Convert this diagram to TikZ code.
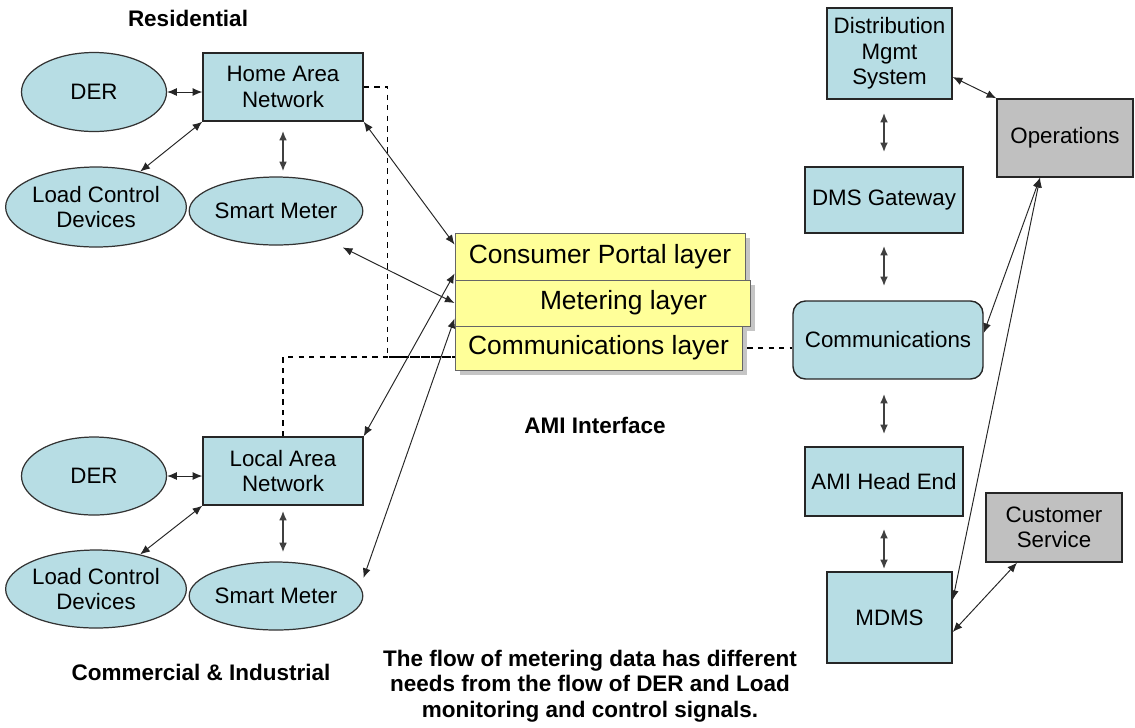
\documentclass[tikz,border=0pt]{standalone}
\usepackage{fontspec}
\setmainfont{Liberation Sans}
\usetikzlibrary{arrows.meta, shapes.geometric, shadows}
\definecolor{amiblue}{RGB}{183,221,228}
\definecolor{amigray}{RGB}{192,192,192}
\definecolor{amiyellow}{RGB}{255,255,153}

\begin{document}
\begin{tikzpicture}[
    txt/.style={font=\fontsize{12.7}{14.5}\selectfont, align=center, inner sep=0pt},
    boldlabel/.style={font=\bfseries\fontsize{12.8}{14.6}\selectfont, align=center, inner sep=0pt},
    sysbox/.style={txt, draw=black!85, line width=0.8pt, fill=amiblue},
    opsbox/.style={sysbox, fill=amigray},
    device/.style={txt, ellipse, draw=black!80, line width=0.7pt, fill=amiblue},
    layerbox/.style={draw=black!60, line width=0.5pt, fill=amiyellow, inner sep=0pt,
        font=\fontsize{15}{17}\selectfont,
        drop shadow={shadow xshift=0.09cm, shadow yshift=-0.09cm, fill=black!45}},
    link/.style={{Latex[length=5.5pt,width=4.5pt]}-{Latex[length=5.5pt,width=4.5pt]}, line width=0.55pt, black!85},
    vlink/.style={link, line width=1.2pt, black!75},
    dashline/.style={dashed, line width=0.7pt}
]
    \useasboundingbox (0,0) rectangle (22.7,-14.54);

    % residential
    \node[boldlabel] (res) at (3.76,-0.36) {Residential};
    \node[sysbox, minimum width=3.2cm, minimum height=1.36cm] (han) at (5.66,-1.74) {Home Area\\Network};
    \node[device, minimum width=2.9cm, minimum height=1.58cm] (der1) at (1.88,-1.84) {DER};
    \node[device, minimum width=3.44cm, minimum height=1.6cm] (lcd1) at (1.92,-4.14) {Load Control\\Devices};
    \node[device, minimum width=2.9cm, minimum height=1.36cm] (sm1) at (5.52,-4.22) {Smart Meter};

    % commercial & industrial
    \node[sysbox, minimum width=3.2cm, minimum height=1.36cm] (lan) at (5.66,-9.42) {Local Area\\Network};
    \node[device, minimum width=2.9cm, minimum height=1.56cm] (der2) at (1.88,-9.52) {DER};
    \node[device, minimum width=3.44cm, minimum height=1.56cm] (lcd2) at (1.92,-11.78) {Load Control\\Devices};
    \node[device, minimum width=2.9cm, minimum height=1.36cm] (sm2) at (5.52,-11.92) {Smart Meter};
    \node[boldlabel] (ci) at (4.02,-13.44) {Commercial \& Industrial};

    % AMI interface
    \node[layerbox, minimum width=5.8cm, minimum height=0.94cm] (cpl) at (12.0,-5.13) {Consumer Portal layer};
    \node[layerbox, minimum width=5.9cm, minimum height=0.92cm] (ml) at (12.05,-6.06) {\hspace*{0.84cm}Metering layer};
    \node[layerbox, minimum width=5.74cm, minimum height=0.88cm] (cl) at (11.97,-6.96) {Communications layer};
    \node[boldlabel] (ami) at (11.9,-8.5) {AMI Interface};
    \node[boldlabel] (note) at (11.8,-13.72) {The flow of metering data has different\\needs from the flow of DER and Load\\monitoring and control signals.};

    % utility side
    \node[sysbox, minimum width=2.5cm, minimum height=1.82cm] (dms) at (17.79,-1.07) {Distribution\\Mgmt\\System};
    \node[sysbox, minimum width=3.16cm, minimum height=1.32cm] (gw) at (17.68,-4.0) {DMS Gateway};
    \node[sysbox, rounded corners=0.25cm, minimum width=3.8cm, minimum height=1.56cm] (comm) at (17.76,-6.8) {Communications};
    \node[sysbox, minimum width=3.16cm, minimum height=1.38cm] (he) at (17.68,-9.63) {AMI Head End};
    \node[sysbox, minimum width=2.5cm, minimum height=1.82cm] (mdms) at (17.79,-12.35) {MDMS};
    \node[opsbox, minimum width=2.72cm, minimum height=1.56cm] (ops) at (21.3,-2.76) {Operations};
    \node[opsbox, minimum width=2.72cm, minimum height=1.38cm] (cs) at (21.08,-10.55) {Customer\\Service};

    % dashed communication paths
    \coordinate (bus) at ([yshift=-0.18cm]cl.west);
    \draw[dashline] (han.east) -- ++(0.48,0) |- (bus);
    \draw[dashline] (lan.north) |- (bus);
    \draw[dashline] ([xshift=0.1cm]cl.east) -- (cl.east -| comm.west);

    % residential links
    \draw[link] (der1.east) -- (der1.east -| han.west);
    \draw[link] (lcd1) -- (han.south west);
    \draw[vlink, shorten <=0.18cm, shorten >=0.1cm] (han.south) -- (han.south |- sm1.north);
    \draw[link] (han.south east) -- ([yshift=-0.24cm]cpl.north west);
    \draw[link] ([shift={(0.1,-0.24)}]sm1.south east) -- (ml.west);

    % commercial links
    \draw[link] (der2.east) -- (der2.east -| lan.west);
    \draw[link] (lcd2) -- (lan.south west);
    \draw[vlink, shorten <=0.1cm, shorten >=0.18cm] (lan.south) -- (lan.south |- sm2.north);
    \draw[link] (lan.north east) -- ([yshift=0.14cm]cpl.south west);
    \draw[link] ([yshift=0.36cm]sm2.east) -- ([yshift=0.16cm]ml.south west);

    % utility links
    \draw[vlink, shorten <=0.26cm, shorten >=0.28cm] (dms.south -| gw.north) -- (gw.north);
    \draw[vlink, shorten <=0.24cm, shorten >=0.28cm] (gw.south) -- (gw.south |- comm.north);
    \draw[vlink, shorten <=0.28cm, shorten >=0.24cm] (comm.south -| he.north) -- (he.north);
    \draw[vlink, shorten <=0.24cm, shorten >=0.04cm] (he.south) -- (he.south |- mdms.north);
    \draw[link] ([yshift=-0.47cm]dms.east) -- (ops.north west);
    \draw[link] ([xshift=-0.5cm]ops.south) -- ([yshift=0.14cm]comm.east);
    \draw[link] ([xshift=-0.5cm]ops.south) -- ([yshift=0.35cm]mdms.east);
    \draw[link] ([xshift=-0.74cm]cs.south) -- ([yshift=-0.29cm]mdms.east);
\end{tikzpicture}
\end{document}
